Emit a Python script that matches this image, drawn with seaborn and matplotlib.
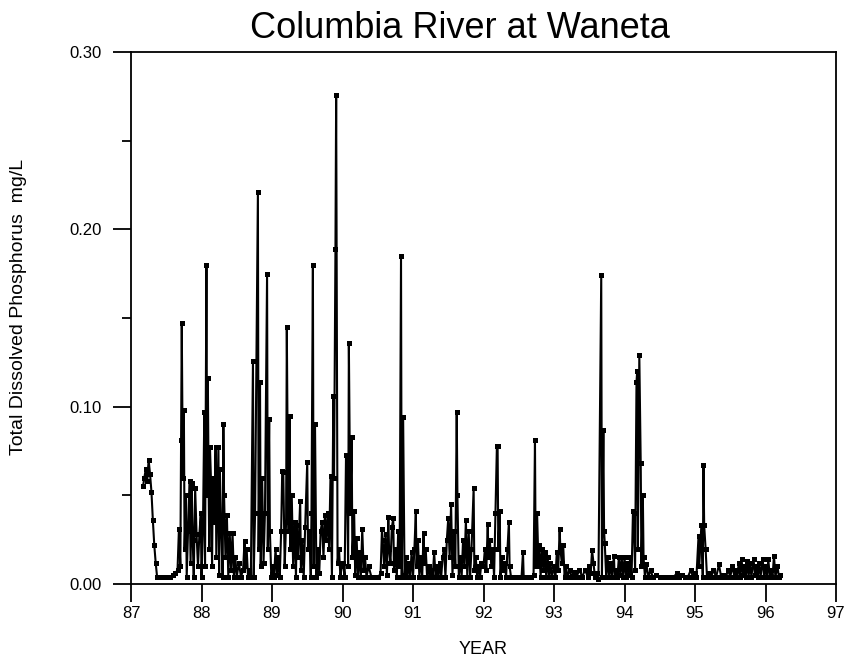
import matplotlib
matplotlib.use("Agg")
import matplotlib.pyplot as plt
from matplotlib.ticker import MultipleLocator
import seaborn as sns
import pandas as pd

# Total dissolved phosphorus (mg/L), Columbia River at Waneta, by decimal year
yr_87 = [87.17, 87.19, 87.21, 87.23, 87.25, 87.27, 87.29, 87.31, 87.33, 87.35,
         87.37, 87.40, 87.45, 87.50, 87.55, 87.60, 87.63, 87.66, 87.68, 87.70,
         87.71, 87.72, 87.735, 87.75, 87.76, 87.78, 87.79, 87.81, 87.83, 87.845,
         87.86, 87.875, 87.89, 87.91, 87.93, 87.95, 87.97, 87.99]
tdp_87 = [0.055, 0.060, 0.065, 0.058, 0.070, 0.062, 0.052, 0.036, 0.022, 0.012,
          0.004, 0.004, 0.004, 0.004, 0.004, 0.005, 0.006, 0.008, 0.031, 0.010,
          0.081, 0.147, 0.060, 0.098, 0.020, 0.050, 0.004, 0.030, 0.058, 0.012,
          0.057, 0.025, 0.004, 0.054, 0.028, 0.010, 0.028, 0.040]

yr_88 = [88.00, 88.02, 88.04, 88.05, 88.07, 88.08, 88.09, 88.10, 88.11, 88.12,
         88.135, 88.15, 88.16, 88.18, 88.20, 88.21, 88.225, 88.24, 88.25, 88.26,
         88.28, 88.30, 88.31, 88.32, 88.34, 88.36, 88.38, 88.40, 88.42, 88.44,
         88.46, 88.48, 88.50, 88.53, 88.56, 88.59, 88.61, 88.62, 88.64, 88.66,
         88.68, 88.70, 88.73, 88.74, 88.76, 88.80, 88.81, 88.83, 88.84, 88.86,
         88.88, 88.90, 88.93, 88.94, 88.96, 88.97, 88.99]
tdp_88 = [0.004, 0.030, 0.097, 0.010, 0.180, 0.050, 0.116, 0.060, 0.020, 0.077,
          0.058, 0.010, 0.060, 0.035, 0.077, 0.015, 0.045, 0.077, 0.005, 0.065,
          0.030, 0.004, 0.090, 0.050, 0.015, 0.039, 0.004, 0.029, 0.008, 0.029,
          0.004, 0.015, 0.004, 0.012, 0.004, 0.008, 0.024, 0.010, 0.020, 0.004,
          0.008, 0.004, 0.126, 0.004, 0.040, 0.221, 0.020, 0.114, 0.010, 0.060,
          0.012, 0.040, 0.175, 0.020, 0.093, 0.030, 0.004]

yr_89 = [89.01, 89.03, 89.05, 89.07, 89.09, 89.11, 89.13, 89.145, 89.16, 89.18,
         89.20, 89.21, 89.23, 89.25, 89.26, 89.28, 89.30, 89.32, 89.34, 89.35,
         89.37, 89.40, 89.41, 89.43, 89.45, 89.47, 89.50, 89.51, 89.53, 89.55,
         89.56, 89.58, 89.59, 89.61, 89.63, 89.65, 89.67, 89.69, 89.71, 89.73,
         89.75, 89.77, 89.79, 89.81, 89.83, 89.85, 89.87, 89.88, 89.90, 89.91,
         89.93, 89.95, 89.97, 89.99]
tdp_89 = [0.010, 0.004, 0.020, 0.005, 0.015, 0.004, 0.030, 0.064, 0.063, 0.010,
          0.035, 0.145, 0.030, 0.095, 0.020, 0.050, 0.010, 0.035, 0.004, 0.033,
          0.015, 0.047, 0.008, 0.025, 0.004, 0.032, 0.069, 0.020, 0.030, 0.004,
          0.040, 0.180, 0.010, 0.090, 0.004, 0.020, 0.006, 0.030, 0.035, 0.015,
          0.039, 0.025, 0.040, 0.020, 0.061, 0.004, 0.106, 0.060, 0.189, 0.276,
          0.012, 0.020, 0.004, 0.010]

yr_90 = [90.01, 90.03, 90.05, 90.06, 90.08, 90.09, 90.11, 90.13, 90.14, 90.165,
         90.18, 90.20, 90.22, 90.24, 90.26, 90.28, 90.30, 90.32, 90.34, 90.37,
         90.41, 90.46, 90.51, 90.54, 90.56, 90.57, 90.59, 90.61, 90.63, 90.65,
         90.66, 90.68, 90.70, 90.72, 90.73, 90.75, 90.77, 90.79, 90.81, 90.83,
         90.84, 90.86, 90.88, 90.90, 90.92, 90.94, 90.96, 90.98]
tdp_90 = [0.012, 0.004, 0.073, 0.072, 0.010, 0.136, 0.040, 0.083, 0.015, 0.041,
          0.005, 0.026, 0.004, 0.018, 0.004, 0.031, 0.008, 0.015, 0.004, 0.010,
          0.004, 0.004, 0.004, 0.006, 0.031, 0.025, 0.010, 0.028, 0.005, 0.038,
          0.020, 0.012, 0.032, 0.037, 0.008, 0.020, 0.004, 0.030, 0.010, 0.185,
          0.004, 0.094, 0.005, 0.015, 0.004, 0.012, 0.004, 0.018]

yr_91 = [91.00, 91.02, 91.04, 91.05, 91.07, 91.09, 91.11, 91.13, 91.15, 91.16,
         91.18, 91.20, 91.22, 91.24, 91.26, 91.28, 91.30, 91.32, 91.34, 91.36,
         91.38, 91.40, 91.42, 91.44, 91.46, 91.48, 91.50, 91.52, 91.54, 91.56,
         91.58, 91.60, 91.62, 91.63, 91.65, 91.67, 91.69, 91.71, 91.73, 91.75,
         91.77, 91.79, 91.81, 91.83, 91.86, 91.87, 91.89, 91.91, 91.93, 91.95,
         91.97]
tdp_91 = [0.004, 0.020, 0.041, 0.010, 0.025, 0.004, 0.015, 0.004, 0.029, 0.012,
          0.020, 0.004, 0.010, 0.004, 0.008, 0.004, 0.018, 0.004, 0.010, 0.004,
          0.012, 0.004, 0.015, 0.020, 0.004, 0.025, 0.037, 0.015, 0.045, 0.005,
          0.030, 0.010, 0.097, 0.050, 0.004, 0.015, 0.004, 0.025, 0.010, 0.036,
          0.004, 0.030, 0.004, 0.020, 0.054, 0.008, 0.015, 0.004, 0.010, 0.004,
          0.012]

yr_92 = [92.00, 92.02, 92.04, 92.06, 92.07, 92.09, 92.11, 92.13, 92.15, 92.17,
         92.19, 92.20, 92.21, 92.23, 92.24, 92.26, 92.28, 92.30, 92.32, 92.34,
         92.36, 92.37, 92.39, 92.42, 92.46, 92.50, 92.54, 92.56, 92.57, 92.60,
         92.64, 92.68, 92.71, 92.73, 92.74, 92.76, 92.78, 92.79, 92.81, 92.83,
         92.85, 92.87, 92.89, 92.91, 92.93, 92.95, 92.97]
tdp_92 = [0.010, 0.020, 0.008, 0.034, 0.015, 0.025, 0.010, 0.020, 0.004, 0.040,
          0.078, 0.078, 0.020, 0.041, 0.004, 0.015, 0.008, 0.012, 0.004, 0.020,
          0.035, 0.010, 0.004, 0.004, 0.004, 0.004, 0.004, 0.018, 0.004, 0.004,
          0.004, 0.004, 0.005, 0.081, 0.010, 0.040, 0.010, 0.022, 0.004, 0.020,
          0.008, 0.018, 0.004, 0.015, 0.004, 0.012, 0.004]

yr_93 = [93.00, 93.02, 93.04, 93.06, 93.08, 93.09, 93.11, 93.13, 93.15, 93.17,
         93.19, 93.22, 93.25, 93.28, 93.32, 93.36, 93.40, 93.44, 93.48, 93.50,
         93.52, 93.54, 93.56, 93.58, 93.61, 93.63, 93.67, 93.68, 93.70, 93.71,
         93.72, 93.74, 93.76, 93.78, 93.80, 93.82, 93.85, 93.86, 93.88, 93.90,
         93.92, 93.94, 93.96, 93.98]
tdp_93 = [0.010, 0.004, 0.018, 0.008, 0.031, 0.020, 0.012, 0.022, 0.004, 0.010,
          0.004, 0.008, 0.004, 0.007, 0.004, 0.008, 0.004, 0.008, 0.004, 0.010,
          0.006, 0.019, 0.012, 0.004, 0.006, 0.003, 0.174, 0.004, 0.087, 0.030,
          0.023, 0.004, 0.015, 0.004, 0.012, 0.004, 0.016, 0.004, 0.008, 0.004,
          0.015, 0.005, 0.015, 0.004]

yr_94 = [94.00, 94.02, 94.04, 94.06, 94.08, 94.10, 94.12, 94.13, 94.15, 94.17,
         94.18, 94.19, 94.21, 94.23, 94.24, 94.26, 94.27, 94.29, 94.31, 94.34,
         94.37, 94.40, 94.45, 94.50, 94.55, 94.60, 94.65, 94.70, 94.74, 94.78,
         94.82, 94.86, 94.90, 94.94, 94.97]
tdp_94 = [0.015, 0.004, 0.012, 0.005, 0.015, 0.004, 0.041, 0.040, 0.008, 0.114,
          0.120, 0.020, 0.129, 0.068, 0.010, 0.050, 0.015, 0.004, 0.011, 0.004,
          0.008, 0.004, 0.005, 0.004, 0.004, 0.004, 0.004, 0.004, 0.006, 0.004,
          0.005, 0.004, 0.004, 0.008, 0.004]

yr_95 = [95.00, 95.02, 95.05, 95.06, 95.09, 95.11, 95.12, 95.13, 95.15, 95.17,
         95.20, 95.23, 95.26, 95.30, 95.34, 95.37, 95.40, 95.44, 95.47, 95.50,
         95.53, 95.56, 95.58, 95.60, 95.62, 95.64, 95.66, 95.68, 95.70, 95.72,
         95.74, 95.76, 95.78, 95.80, 95.83, 95.85, 95.87, 95.89, 95.91, 95.93,
         95.96, 95.98]
tdp_95 = [0.006, 0.004, 0.027, 0.010, 0.033, 0.004, 0.067, 0.033, 0.020, 0.004,
          0.006, 0.004, 0.008, 0.004, 0.011, 0.004, 0.005, 0.004, 0.008, 0.004,
          0.010, 0.004, 0.008, 0.004, 0.012, 0.004, 0.014, 0.005, 0.010, 0.004,
          0.013, 0.004, 0.012, 0.004, 0.014, 0.005, 0.010, 0.004, 0.012, 0.004,
          0.014, 0.004]

yr_96 = [96.00, 96.02, 96.04, 96.06, 96.08, 96.10, 96.12, 96.14, 96.17, 96.19,
         96.21]
tdp_96 = [0.010, 0.004, 0.014, 0.004, 0.008, 0.004, 0.016, 0.004, 0.010, 0.004,
          0.005]

year_ticks = [87, 88, 89, 90, 91, 92, 93, 94, 95, 96, 97]
tdp_ticks = [0.00, 0.10, 0.20, 0.30]

years = yr_87 + yr_88 + yr_89 + yr_90 + yr_91 + yr_92 + yr_93 + yr_94 + yr_95 + yr_96
tdp = tdp_87 + tdp_88 + tdp_89 + tdp_90 + tdp_91 + tdp_92 + tdp_93 + tdp_94 + tdp_95 + tdp_96
df = pd.DataFrame({"year": years, "tdp": tdp})

sns.set_style("white")
plt.rcParams["font.family"] = ["Liberation Sans", "DejaVu Sans"]
plt.rcParams["text.color"] = "black"
plt.rcParams["axes.labelcolor"] = "black"

fig = plt.figure(figsize=(8.49, 6.65), dpi=100)
ax = fig.add_axes([0.1543, 0.1218, 0.8304, 0.8])

sns.lineplot(data=df, x="year", y="tdp", ax=ax, color="black", linewidth=1.5,
             marker="s", markersize=3.6, markeredgewidth=0, estimator=None, sort=False)

ax.set_xlim(87, 97)
ax.set_ylim(0, 0.30)
ax.set_xticks(year_ticks)
ax.set_xticklabels([str(y) for y in year_ticks])
ax.set_yticks(tdp_ticks)
ax.set_yticklabels([f"{v:.2f}" for v in tdp_ticks])
ax.yaxis.set_minor_locator(MultipleLocator(0.05))

ax.tick_params(axis="both", which="major", direction="out", length=13, width=1.3,
               colors="black", labelsize=12, bottom=True, left=True)
ax.tick_params(axis="x", which="major", pad=3)
ax.tick_params(axis="y", which="major", pad=8)
ax.tick_params(axis="y", which="minor", direction="out", length=6.5, width=1.3,
               colors="black", left=True)
for sp in ax.spines.values():
    sp.set_visible(True)
    sp.set_color("black")
    sp.set_linewidth(1.3)

ax.set_title("Columbia River at Waneta", fontsize=26, pad=10, color="black", x=0.467)
ax.set_xlabel("YEAR", fontsize=13, labelpad=14)
ax.set_ylabel("Total Dissolved Phosphorus  mg/L", fontsize=14)
ax.yaxis.set_label_coords(-0.148, 0.52)

fig.savefig("out.png", dpi=100, facecolor="white")
